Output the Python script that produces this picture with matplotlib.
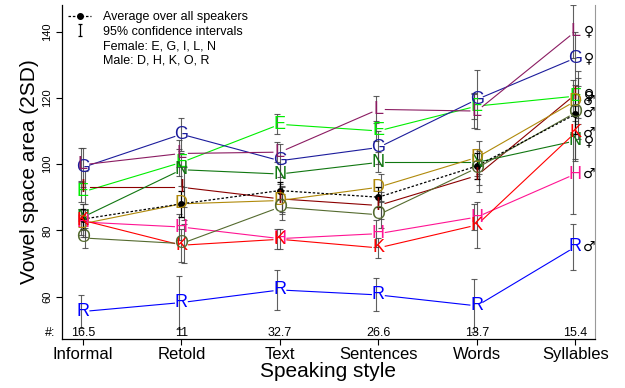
import matplotlib
matplotlib.use("Agg")
import matplotlib.pyplot as plt
import numpy as np
from matplotlib.lines import Line2D
from matplotlib.path import Path

plt.rcParams["font.family"] = ["Liberation Sans", "DejaVu Sans"]

STYLES = ["Informal", "Retold", "Text", "Sentences", "Words", "Syllables"]
COUNTS = ["16.5", "11", "32.7", "26.6", "13.7", "15.4"]

SPEAKERS = ["E", "G", "I", "L", "N", "D", "H", "K", "O", "R"]
FEMALE = ["E", "G", "I", "L", "N"]
MALE = ["D", "H", "K", "O", "R"]

COLORS = {
    "E": "#00ee00", "G": "#1c1c9c", "I": "#8b0000", "L": "#8b1c62",
    "N": "#117711", "D": "#b08a0b", "H": "#ff1493", "K": "#ff0000",
    "O": "#556b2f", "R": "#0000ff",
}

# vowel space area per speaker, one value per speaking style
AREA = {
    "E": [91.6, 100.5, 112.0, 110.0, 117.5, 120.5],
    "G": [99.0, 109.0, 101.0, 105.0, 119.5, 132.0],
    "I": [93.0, 93.0, 89.5, 87.5, 96.5, 121.0],
    "L": [99.8, 103.2, 103.6, 116.5, 116.0, 140.0],
    "N": [84.0, 98.3, 97.0, 100.5, 100.5, 107.0],
    "D": [82.0, 88.0, 89.0, 93.0, 102.0, 119.0],
    "H": [82.5, 81.0, 77.5, 79.0, 84.0, 97.0],
    "K": [83.0, 75.5, 77.3, 74.7, 81.6, 109.5],
    "O": [77.7, 76.0, 87.0, 84.7, 98.8, 115.5],
    "R": [55.5, 58.2, 62.0, 60.5, 57.2, 75.0],
}

# half width of the 95% confidence intervals
CI = {
    "E": [3, 4, 3, 3, 4, 5],
    "G": [6, 5, 5, 5, 9, 8],
    "I": [5, 6, 4, 4, 5, 7],
    "L": [5, 4, 3, 4, 5, 8],
    "N": [4, 5, 3, 3, 4, 6],
    "D": [4, 5, 4, 4, 5, 7],
    "H": [4, 4, 3, 4, 4, 12],
    "K": [5, 5, 3, 3, 7, 8],
    "O": [3, 6, 4, 4, 5, 8],
    "R": [5, 8, 6, 5, 8, 7],
}

AVG = [83.4, 88.0, 92.0, 90.0, 99.4, 115.0]
AVG_CI = [3, 4, 2.5, 3, 4, 6]

GAP_PX = 7  # gap left around each letter (R type="b")


def gapped_line(ax, xs, ys, r, **kw):
    pts = ax.transData.transform(np.column_stack([xs, ys]))
    inv = ax.transData.inverted()
    for p0, p1 in zip(pts[:-1], pts[1:]):
        d = p1 - p0
        n = np.hypot(*d)
        if n <= 2 * r:
            continue
        u = d / n
        seg = inv.transform([p0 + u * r, p1 - u * r])
        ax.plot(seg[:, 0], seg[:, 1], **kw)


fig = plt.figure(figsize=(6.25, 3.88), dpi=100, facecolor="white")
ax = fig.add_axes([0.0992, 0.1263, 0.8528, 0.8607])
ax.set_xlim(-0.213, 5.2)
ax.set_ylim(47.2, 148)

x = np.arange(len(STYLES))

for i, spk in enumerate(SPEAKERS):
    y = np.array(AREA[spk])
    gapped_line(ax, x, y, GAP_PX, color=COLORS[spk], lw=0.8, zorder=2)
    off = ((i % 3) - 1) * 0.025
    ax.errorbar(x + off, y, yerr=CI[spk], fmt="none", ecolor="#444444",
                elinewidth=0.8, capsize=2.5, capthick=0.8, alpha=0.85, zorder=3)
    for xi, yi in zip(x, y):
        ax.text(xi, yi, spk, color=COLORS[spk], fontsize=13,
                ha="center", va="center", zorder=5)
    sym = "\u2640" if spk in FEMALE else "\u2642"
    ax.text(x[-1] + 0.14, y[-1], sym, fontsize=10, ha="center", va="center",
            family=["DejaVu Sans"], zorder=5)

ax.plot(x, AVG, color="black", ls=(0, (2, 1.5)), lw=0.9, marker="o", ms=4, zorder=4)
ax.errorbar(x, AVG, yerr=AVG_CI, fmt="none", ecolor="black",
            elinewidth=0.9, capsize=2.5, capthick=0.9, zorder=4)

# "#:" row
for xi, c in zip(x, COUNTS):
    ax.text(xi, 0.018, c, transform=ax.get_xaxis_transform(),
            fontsize=9, ha="center", va="center")
ax.text(-0.0225, 0.018, "#:", transform=ax.transAxes, fontsize=9,
        ha="center", va="center", clip_on=False)

# legend
ibar = Path([(-0.4, -1), (0.4, -1), (0, -1), (0, 1), (-0.4, 1), (0.4, 1)],
            [Path.MOVETO, Path.LINETO, Path.MOVETO, Path.LINETO, Path.MOVETO, Path.LINETO])
handles = [
    Line2D([], [], color="black", ls=(0, (2, 1.5)), lw=0.9, marker="o", ms=4),
    Line2D([], [], color="black", ls="none", marker=ibar, ms=8, mew=0.9),
    Line2D([], [], ls="none"),
    Line2D([], [], ls="none"),
]
labels = ["Average over all speakers", "95% confidence intervals",
          "Female: " + ", ".join(FEMALE), "Male: " + ", ".join(MALE)]
ax.legend(handles, labels, loc="upper left", bbox_to_anchor=(0.0, 1.0),
          frameon=False, fontsize=9, handlelength=1.85, handletextpad=0.95,
          labelspacing=0.2, borderaxespad=0.2, borderpad=0.3)

ax.set_xticks(x)
ax.set_xticklabels(STYLES, fontsize=12)
ax.set_yticks([60, 80, 100, 120, 140])
ax.set_yticklabels(["60", "80", "100", "120", "140"], fontsize=8,
                   rotation=90, va="center")
ax.tick_params(axis="both", direction="out", length=4, width=0.8)
ax.tick_params(axis="x", pad=2)
ax.tick_params(axis="y", pad=3)

ax.spines["top"].set_visible(False)
ax.spines["right"].set_color("#999999")
ax.spines["left"].set_linewidth(0.9)
ax.spines["bottom"].set_linewidth(0.9)

ax.set_xlabel("Speaking style", fontsize=15, labelpad=0)
ax.set_ylabel("Vowel space area (2SD)", fontsize=15, labelpad=2)

fig.savefig("out.png", dpi=100, facecolor="white")
